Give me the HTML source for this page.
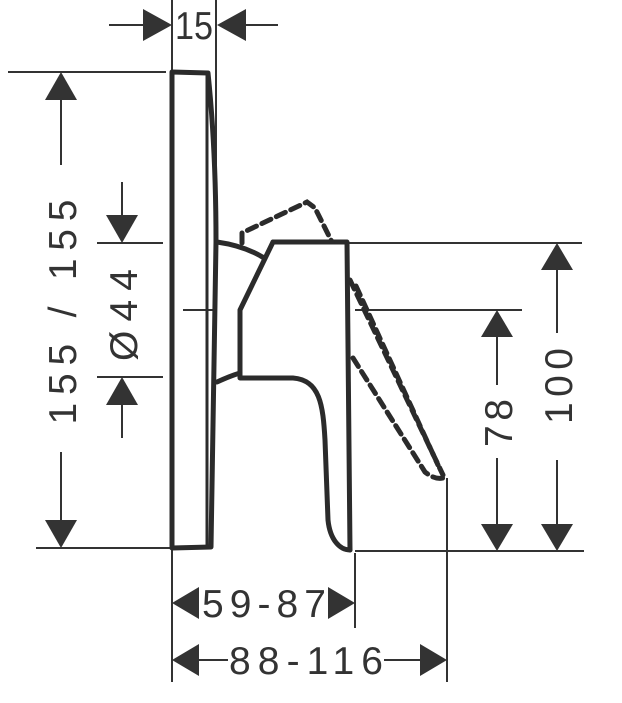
<!DOCTYPE html>
<html><head><meta charset="utf-8"><style>html,body{margin:0;padding:0;background:#fff}svg{display:block}</style></head>
<body>
<svg width="622" height="703" viewBox="0 0 622 703" xmlns="http://www.w3.org/2000/svg">
<g stroke="#333" fill="none" stroke-width="2">
<line x1="172" y1="0" x2="172" y2="72"/>
<line x1="216" y1="0" x2="216" y2="242"/>
<line x1="8" y1="72" x2="166" y2="72"/>
<line x1="36" y1="548" x2="170" y2="548"/>
<line x1="97" y1="243" x2="163" y2="243"/>
<line x1="97" y1="377" x2="163" y2="377"/>
<line x1="183" y1="310" x2="215" y2="310"/>
<line x1="348" y1="243" x2="582" y2="243"/>
<line x1="355" y1="310" x2="522" y2="310"/>
<line x1="355" y1="551" x2="584" y2="551"/>
<line x1="172" y1="550" x2="172" y2="682"/>
<line x1="355" y1="553" x2="355" y2="628"/>
<line x1="447" y1="478" x2="447" y2="682"/>
<line x1="109" y1="25" x2="150" y2="25"/>
<line x1="240" y1="25" x2="278" y2="25"/>
<line x1="61" y1="100" x2="61" y2="165"/>
<line x1="61" y1="452" x2="61" y2="520"/>
<line x1="122" y1="182" x2="122" y2="220"/>
<line x1="122" y1="400" x2="122" y2="438"/>
<line x1="557" y1="270" x2="557" y2="333"/>
<line x1="557" y1="460" x2="557" y2="525"/>
<line x1="497" y1="335" x2="497" y2="385"/>
<line x1="497" y1="458" x2="497" y2="525"/>
<line x1="198" y1="660" x2="228" y2="660"/>
<line x1="384" y1="660" x2="420" y2="660"/>
</g>
<g fill="#333">
<polygon points="143,9 143,41 172,25"/>
<polygon points="246,9 246,41 217,25"/>
<polygon points="61,72 45,100 77,100"/>
<polygon points="61,548 45,520 77,520"/>
<polygon points="122,243 106,215 138,215"/>
<polygon points="122,377 106,405 138,405"/>
<polygon points="557,243 541,270 573,270"/>
<polygon points="557,551 541,524 573,524"/>
<polygon points="497,310 481,337 513,337"/>
<polygon points="497,551 481,524 513,524"/>
<polygon points="172,603 199,587 199,619"/>
<polygon points="355,603 328,587 328,619"/>
<polygon points="172,660 199,644 199,676"/>
<polygon points="447,660 420,644 420,676"/>
</g>
<g stroke="#2b2b2b" fill="none" stroke-width="5" stroke-linejoin="round" stroke-linecap="round">
<path d="M172,72 L208,73 Q216,150 216,242 L211,547 L172,548 Z"/>
<path d="M217,242 Q245,246 264,258"/>
<path d="M273,242 L347,242 L350,550"/>
<path d="M273,242 L240,310 L240,378 L293,378 C320,380 323,405 325,440 L328,520 C330,540 340,550 350,550"/>
<path d="M217,382 Q230,376 240,373"/>
</g>
<line x1="207" y1="74" x2="207" y2="546" stroke="#2b2b2b" stroke-width="3"/>
<g stroke="#2b2b2b" fill="none" stroke-width="5" stroke-dasharray="10,6" stroke-linecap="round">
<path d="M242,243 L242,233 L307,202 L315,208 L332,242"/>
<path d="M350,280 L443,475"/>
<path d="M356,286 L438,465"/>
<path d="M353,358 L425,472 Q435,480 443,478"/>
</g>
<g fill="#333" font-family="Liberation Sans, sans-serif" font-size="39">
<text x="175" y="39" textLength="38" lengthAdjust="spacingAndGlyphs">15</text>
<text x="202" y="617" textLength="124" lengthAdjust="spacing">59-87</text>
<text x="229" y="674" textLength="154" lengthAdjust="spacing">88-116</text>
<text transform="translate(76,312) rotate(-90)" text-anchor="middle" textLength="225" lengthAdjust="spacing">155 / 155</text>
<text transform="translate(137,315) rotate(-90)" text-anchor="middle" textLength="92" lengthAdjust="spacing">Ø44</text>
<text transform="translate(572,386) rotate(-90)" text-anchor="middle" textLength="76" lengthAdjust="spacing">100</text>
<text transform="translate(512,423) rotate(-90)" text-anchor="middle" textLength="48" lengthAdjust="spacing">78</text>
</g>
</svg>
</body></html>
